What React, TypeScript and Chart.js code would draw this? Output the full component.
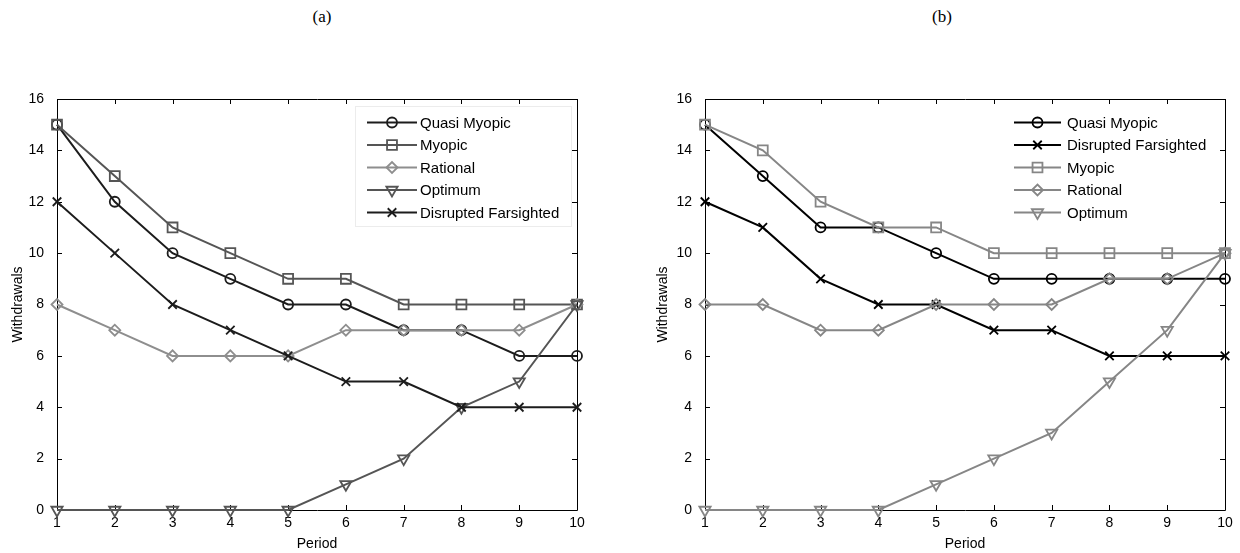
import React, { useEffect, useRef } from "react";
import { Chart, registerables } from "chart.js";
import { drawPoint } from "chart.js/helpers";

Chart.register(...registerables);

// Shared axes
const periods = [1, 2, 3, 4, 5, 6, 7, 8, 9, 10];
const withdrawalTicks = [0, 2, 4, 6, 8, 10, 12, 14, 16];

// Panel (a)
const aQuasiMyopic = [15, 12, 10, 9, 8, 8, 7, 7, 6, 6];
const aMyopic = [15, 13, 11, 10, 9, 9, 8, 8, 8, 8];
const aRational = [8, 7, 6, 6, 6, 7, 7, 7, 7, 8];
const aOptimum = [0, 0, 0, 0, 0, 1, 2, 4, 5, 8];
const aDisruptedFarsighted = [12, 10, 8, 7, 6, 5, 5, 4, 4, 4];

// Panel (b)
const bQuasiMyopic = [15, 13, 11, 11, 10, 9, 9, 9, 9, 9];
const bDisruptedFarsighted = [12, 11, 9, 8, 8, 7, 7, 6, 6, 6];
const bMyopic = [15, 14, 12, 11, 11, 10, 10, 10, 10, 10];
const bRational = [8, 8, 7, 7, 8, 8, 8, 9, 9, 10];
const bOptimum = [0, 0, 0, 0, 1, 2, 3, 5, 7, 10];

const SANS = "'Liberation Sans', Arial, Helvetica, sans-serif";

type Marker = { pointStyle: string; radius: number; rotation?: number };
const MARKERS: Record<string, Marker> = {
  circle: { pointStyle: "circle", radius: 5 },
  square: { pointStyle: "rect", radius: 7 },
  diamond: { pointStyle: "rectRot", radius: 5.5 },
  triangleDown: { pointStyle: "triangle", radius: 6.5, rotation: 180 },
  cross: { pointStyle: "crossRot", radius: 6 },
};

type Series = { label: string; values: number[]; color: string; marker: Marker };

const seriesA: Series[] = [
  { label: "Quasi Myopic", values: aQuasiMyopic, color: "#1c1c1c", marker: MARKERS.circle },
  { label: "Myopic", values: aMyopic, color: "#555555", marker: MARKERS.square },
  { label: "Rational", values: aRational, color: "#8e8e8e", marker: MARKERS.diamond },
  { label: "Optimum", values: aOptimum, color: "#555555", marker: MARKERS.triangleDown },
  { label: "Disrupted Farsighted", values: aDisruptedFarsighted, color: "#1c1c1c", marker: MARKERS.cross },
];

const seriesB: Series[] = [
  { label: "Quasi Myopic", values: bQuasiMyopic, color: "#000000", marker: MARKERS.circle },
  { label: "Disrupted Farsighted", values: bDisruptedFarsighted, color: "#000000", marker: MARKERS.cross },
  { label: "Myopic", values: bMyopic, color: "#868686", marker: MARKERS.square },
  { label: "Rational", values: bRational, color: "#868686", marker: MARKERS.diamond },
  { label: "Optimum", values: bOptimum, color: "#868686", marker: MARKERS.triangleDown },
];

// Box around the plot area with inward tick marks on all four sides
const axesBox = {
  id: "axesBox",
  beforeDatasetsDraw(chart: any) {
    const { ctx, chartArea, scales } = chart;
    const { left, right, top, bottom } = chartArea;
    const tick = 5;
    ctx.save();
    ctx.strokeStyle = "#000";
    ctx.lineWidth = 1;
    ctx.beginPath();
    ctx.rect(left + 0.5, top + 0.5, right - left, bottom - top);
    ctx.stroke();
    ctx.beginPath();
    for (const v of periods) {
      const px = Math.round(scales.x.getPixelForValue(v)) + 0.5;
      ctx.moveTo(px, bottom);
      ctx.lineTo(px, bottom - tick);
      ctx.moveTo(px, top);
      ctx.lineTo(px, top + tick);
    }
    for (const v of withdrawalTicks) {
      const py = Math.round(scales.y.getPixelForValue(v)) + 0.5;
      ctx.moveTo(left, py);
      ctx.lineTo(left + tick, py);
      ctx.moveTo(right, py);
      ctx.lineTo(right - tick, py);
    }
    ctx.stroke();
    ctx.restore();
  },
};

type LegendLayout = {
  box?: { x: number; y: number; w: number; h: number; border: string };
  lineX0: number;
  lineX1: number;
  textX: number;
  rowY0: number;
  rowGap: number;
};

function makeLegend(layout: LegendLayout) {
  return {
    id: "insetLegend",
    afterDatasetsDraw(chart: any) {
      const { ctx } = chart;
      ctx.save();
      if (layout.box) {
        const b = layout.box;
        ctx.fillStyle = "#ffffff";
        ctx.fillRect(b.x, b.y, b.w, b.h);
        ctx.strokeStyle = b.border;
        ctx.lineWidth = 1;
        ctx.strokeRect(b.x + 0.5, b.y + 0.5, b.w, b.h);
      }
      chart.data.datasets.forEach((ds: any, i: number) => {
        const y = layout.rowY0 + i * layout.rowGap;
        ctx.strokeStyle = ds.borderColor;
        ctx.lineWidth = ds.borderWidth;
        ctx.beginPath();
        ctx.moveTo(layout.lineX0, y);
        ctx.lineTo(layout.lineX1, y);
        ctx.stroke();
        ctx.fillStyle = "rgba(0,0,0,0)";
        ctx.lineWidth = ds.pointBorderWidth;
        drawPoint(
          ctx,
          {
            pointStyle: ds.pointStyle,
            rotation: ds.pointRotation,
            radius: ds.pointRadius,
            borderWidth: ds.pointBorderWidth,
          } as any,
          (layout.lineX0 + layout.lineX1) / 2,
          y
        );
        ctx.fillStyle = "#000";
        ctx.font = `15px ${SANS}`;
        ctx.textAlign = "left";
        ctx.textBaseline = "middle";
        ctx.fillText(ds.label, layout.textX, y + 1);
      });
      ctx.restore();
    },
  };
}

type PanelProps = {
  series: Series[];
  offsetX: number;
  yAxisWidth: number;
  rightPad: number;
  yTitlePad: number;
  legend: LegendLayout;
};

function Panel({ series, offsetX, yAxisWidth, rightPad, yTitlePad, legend }: PanelProps) {
  const ref = useRef<HTMLCanvasElement | null>(null);

  useEffect(() => {
    if (!ref.current) return;
    const n = series.length;
    const chart = new Chart(ref.current, {
      type: "line",
      data: {
        datasets: series.map((s, i) => ({
          label: s.label,
          data: s.values.map((v, k) => ({ x: periods[k], y: v })),
          borderColor: s.color,
          borderWidth: 2,
          pointStyle: s.marker.pointStyle as any,
          pointRadius: s.marker.radius,
          pointRotation: s.marker.rotation ?? 0,
          pointBorderWidth: 1.8,
          pointBorderColor: s.color,
          pointBackgroundColor: "rgba(0,0,0,0)",
          tension: 0,
          clip: false as any,
          order: n - i,
        })),
      },
      options: {
        animation: false,
        responsive: false,
        devicePixelRatio: 1,
        events: [],
        layout: {
          autoPadding: false,
          padding: { left: 0, top: 99, right: rightPad, bottom: 0 },
        },
        plugins: {
          legend: { display: false },
          tooltip: { enabled: false },
          title: { display: false },
        },
        scales: {
          x: {
            type: "linear",
            min: 1,
            max: 10,
            grid: { display: false },
            border: { display: false },
            afterBuildTicks: (scale: any) => {
              scale.ticks = periods.map((v) => ({ value: v }));
            },
            afterFit: (scale: any) => {
              scale.height = 43;
            },
            ticks: {
              autoSkip: false,
              maxRotation: 0,
              padding: -3,
              color: "#000",
              font: { family: SANS, size: 14 },
            },
            title: {
              display: true,
              text: "Period",
              color: "#000",
              font: { family: SANS, size: 14 },
              padding: { top: 0, bottom: 0 },
            },
          },
          y: {
            type: "linear",
            min: 0,
            max: 16,
            grid: { display: false },
            border: { display: false },
            afterBuildTicks: (scale: any) => {
              scale.ticks = withdrawalTicks.map((v) => ({ value: v }));
            },
            afterFit: (scale: any) => {
              scale.width = yAxisWidth;
            },
            ticks: {
              padding: 5,
              color: "#000",
              font: { family: SANS, size: 14 },
            },
            title: {
              display: true,
              text: "Withdrawals",
              color: "#000",
              font: { family: SANS, size: 14 },
              padding: { top: yTitlePad, bottom: 0 },
            },
          },
        },
      },
      plugins: [axesBox, makeLegend(legend)],
    } as any);
    return () => chart.destroy();
  }, []);

  return (
    <canvas
      ref={ref}
      width={620}
      height={553}
      style={{ position: "absolute", left: offsetX, top: 0, width: 620, height: 553 }}
    />
  );
}

const titleStyle: React.CSSProperties = {
  position: "absolute",
  top: 17,
  transform: "translate(-50%, -50%)",
  fontFamily: "'Liberation Serif', 'Times New Roman', serif",
  fontSize: 17,
  color: "#000",
  whiteSpace: "nowrap",
};

export default function App() {
  return (
    <div
      style={{
        position: "absolute",
        left: 0,
        top: 0,
        width: 1240,
        height: 553,
        background: "#fff",
        overflow: "hidden",
      }}
    >
      <div style={{ ...titleStyle, left: 322 }}>(a)</div>
      <div style={{ ...titleStyle, left: 942 }}>(b)</div>
      <Panel
        series={seriesA}
        offsetX={0}
        yAxisWidth={57}
        rightPad={43}
        yTitlePad={10}
        legend={{
          box: { x: 355, y: 106, w: 216, h: 120, border: "#ececec" },
          lineX0: 367,
          lineX1: 417,
          textX: 420,
          rowY0: 122.5,
          rowGap: 22.5,
        }}
      />
      <Panel
        series={seriesB}
        offsetX={620}
        yAxisWidth={85}
        rightPad={15}
        yTitlePad={35}
        legend={{
          lineX0: 394,
          lineX1: 441,
          textX: 447,
          rowY0: 122.5,
          rowGap: 22.5,
        }}
      />
    </div>
  );
}
